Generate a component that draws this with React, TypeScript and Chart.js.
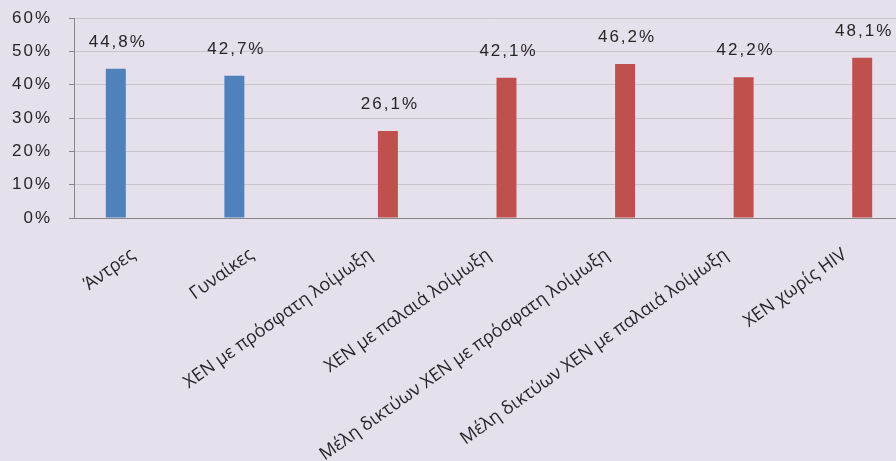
import React, { useEffect, useRef } from 'react';
import { Chart, registerables } from 'chart.js';

Chart.register(...registerables);

const categories = [
  'Άντρες',
  'Γυναίκες',
  'ΧΕΝ με πρόσφατη λοίμωξη',
  'ΧΕΝ με παλαιά λοίμωξη',
  'Μέλη δικτύων ΧΕΝ με πρόσφατη λοίμωξη',
  'Μέλη δικτύων ΧΕΝ με παλαιά λοίμωξη',
  'ΧΕΝ χωρίς HIV',
];
const sexValues = [44.8, 42.7, null, null, null, null, null];
const groupValues = [null, null, 26.1, 42.1, 46.2, 42.2, 48.1];
const yMin = 0;
const yMax = 60;
const yStep = 10;

const fmt = (v: number) => v.toFixed(1).replace('.', ',') + '%';

const BG = '#e6e0ec';
const TEXT = '#262626';
const SPACING = '2px';

const valueLabels = {
  id: 'valueLabels',
  afterDatasetsDraw(chart: any) {
    const ctx = chart.ctx;
    ctx.save();
    ctx.font = '17px "Liberation Sans", Arial, sans-serif';
    ctx.fillStyle = TEXT;
    ctx.textAlign = 'center';
    ctx.textBaseline = 'alphabetic';
    (ctx as any).letterSpacing = SPACING;
    chart.data.datasets.forEach((ds: any, di: number) => {
      const meta = chart.getDatasetMeta(di);
      meta.data.forEach((el: any, i: number) => {
        const v = ds.data[i];
        if (v == null) return;
        ctx.fillText(fmt(v), el.x + 2, el.y - 22);
      });
    });
    ctx.restore();
    // y tick labels (z = 1) are drawn after this point with the same spacing
    (ctx as any).letterSpacing = SPACING;
  },
  afterDraw(chart: any) {
    (chart.ctx as any).letterSpacing = '0px';
  },
};

export default function App() {
  const ref = useRef<HTMLCanvasElement>(null);
  useEffect(() => {
    if (!ref.current) return;
    const chart = new Chart(ref.current, {
      type: 'bar',
      data: {
        labels: categories,
        datasets: [
          {
            label: 'Φύλο',
            data: sexValues,
            backgroundColor: '#4f81bd',
            categoryPercentage: 0.59,
            barPercentage: 0.571,
          },
          {
            label: 'Ομάδες',
            data: groupValues,
            backgroundColor: '#c0504d',
            categoryPercentage: 0.59,
            barPercentage: 0.571,
          },
        ],
      },
      options: {
        responsive: false,
        animation: false,
        devicePixelRatio: 1,
        layout: { padding: { left: 0, top: 18, right: 16, bottom: 0 } },
        plugins: {
          legend: { display: false },
          tooltip: { enabled: false },
          title: { display: false },
        },
        scales: {
          x: {
            grid: { display: false, drawTicks: false },
            border: { display: true, color: '#868686', width: 1 },
            ticks: {
              z: 0,
              autoSkip: false,
              minRotation: 35.5,
              maxRotation: 35.5,
              padding: 26,
              color: TEXT,
              font: { family: '"Open Sans", sans-serif', size: 18 },
            },
            afterFit: (s: any) => {
              s.height = 243;
            },
          },
          y: {
            min: yMin,
            max: yMax,
            ticks: {
              z: 1,
              stepSize: yStep,
              padding: 17,
              color: TEXT,
              font: { family: '"Liberation Sans", Arial, sans-serif', size: 17 },
              callback: (v: any) => v + '%',
            },
            grid: { color: '#c8c6cc', tickColor: '#868686', tickLength: 5, drawTicks: true },
            border: { display: true, color: '#868686', width: 1 },
            afterFit: (s: any) => {
              s.width = 74;
              s.paddingTop = 0;
              s.paddingBottom = 0;
            },
          },
        },
      },
      plugins: [valueLabels],
    });
    return () => chart.destroy();
  }, []);

  return (
    <div
      style={{
        position: 'absolute',
        left: 0,
        top: 0,
        width: 896,
        height: 461,
        overflow: 'hidden',
        background: BG,
      }}
    >
      <canvas ref={ref} width={920} height={461} style={{ display: 'block', width: 920, height: 461 }} />
    </div>
  );
}
